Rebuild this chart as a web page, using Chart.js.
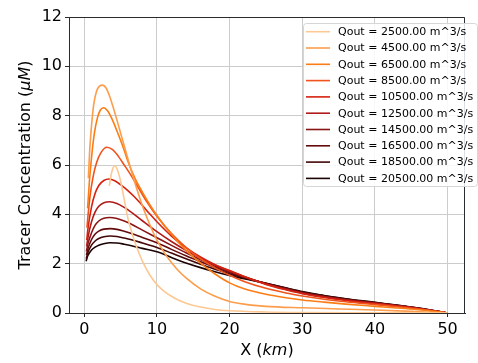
<!DOCTYPE html>
<html>
<head>
<meta charset="utf-8">
<script src="https://cdn.jsdelivr.net/npm/chart.js@4.4.1/dist/chart.umd.min.js"></script>
<style>
  html, body { margin: 0; padding: 0; background: #ffffff; }
  canvas { display: block; }
</style>
</head>
<body>
<canvas id="chart" width="478" height="363"></canvas>
<script>
// Outflow rates (m^3/s) for each tracer profile
const qout = [2500, 4500, 6500, 8500, 10500, 12500, 14500, 16500, 18500, 20500];

// Along-channel distance (km) and tracer concentration (uM) per outflow
const x2500 = [3.44, 3.7, 3.95, 4.2, 4.5, 5.0, 5.5, 6.0, 6.5, 7.0, 7.5, 8.0, 9.0, 10, 11, 12, 13, 14, 16, 18, 20, 25, 30, 40, 50];
const c2500 = [5.15, 5.6, 5.88, 5.97, 5.85, 5.35, 4.6, 3.85, 3.3, 2.85, 2.45, 2.1, 1.55, 1.15, 0.88, 0.68, 0.52, 0.4, 0.24, 0.14, 0.09, 0.04, 0.02, 0.01, 0];

const x4500 = [0.56, 0.75, 1.0, 1.3, 1.7, 2.1, 2.53, 3.0, 3.5, 4.0, 4.5, 5.0, 5.5, 6.0, 7.0, 8.0, 9.0, 10, 11, 12, 13, 14, 16, 18, 20, 22, 25, 30, 35, 40, 45, 50];
const c4500 = [5.46, 6.6, 7.6, 8.45, 9.0, 9.2, 9.24, 9.12, 8.78, 8.32, 7.82, 7.3, 6.78, 6.25, 5.25, 4.35, 3.6, 2.95, 2.45, 2.05, 1.7, 1.42, 0.98, 0.68, 0.47, 0.36, 0.27, 0.21, 0.165, 0.12, 0.065, 0];

const x6500 = [0.46, 0.7, 1.0, 1.4, 1.8, 2.2, 2.67, 3.2, 3.8, 4.5, 5.0, 5.5, 6.0, 7.0, 8.0, 9.0, 10, 11, 12, 13, 14, 16, 18, 20, 22, 25, 28, 30, 33, 36, 40, 43, 46, 50];
const c6500 = [4.24, 5.3, 6.3, 7.3, 7.9, 8.22, 8.32, 8.2, 7.88, 7.38, 7.0, 6.6, 6.15, 5.45, 4.9, 4.4, 3.95, 3.55, 3.2, 2.85, 2.55, 2.02, 1.58, 1.22, 0.98, 0.76, 0.61, 0.53, 0.44, 0.36, 0.27, 0.205, 0.13, 0];

const x8500 = [0.37, 0.5, 0.8, 1.2, 1.7, 2.3, 3.1, 3.9, 4.7, 5.5, 6.5, 7.5, 8.5, 10, 12, 14, 16, 18, 20, 22, 25, 28, 30, 33, 36, 40, 43, 46, 50];
const c8500 = [3.46, 3.9, 4.75, 5.5, 6.1, 6.5, 6.72, 6.62, 6.35, 6.0, 5.55, 5.05, 4.56, 3.92, 3.22, 2.66, 2.2, 1.83, 1.53, 1.28, 1.0, 0.8, 0.69, 0.56, 0.455, 0.34, 0.255, 0.16, 0];

const x10500 = [0.35, 0.5, 1.0, 1.5, 2.0, 2.7, 3.4, 4.2, 5.0, 6.0, 7.0, 8.0, 9.0, 10, 12, 14, 16, 18, 20, 22, 25, 28, 30, 33, 36, 40, 43, 46, 50];
const c10500 = [2.96, 3.4, 4.3, 4.85, 5.17, 5.37, 5.43, 5.36, 5.2, 4.96, 4.68, 4.36, 4.02, 3.7, 3.12, 2.65, 2.27, 1.96, 1.72, 1.48, 1.16, 0.92, 0.78, 0.63, 0.51, 0.38, 0.28, 0.175, 0];

const x12500 = [0.33, 0.5, 1.0, 1.5, 2.0, 2.7, 3.5, 4.5, 5.5, 6.5, 8.0, 10, 12, 14, 16, 18, 20, 22, 25, 28, 30, 33, 36, 40, 43, 46, 50];
const c12500 = [2.7, 3.05, 3.7, 4.1, 4.33, 4.47, 4.51, 4.44, 4.28, 4.08, 3.74, 3.3, 2.9, 2.54, 2.23, 1.95, 1.7, 1.48, 1.18, 0.94, 0.8, 0.65, 0.53, 0.39, 0.29, 0.18, 0];

const x14500 = [0.3, 0.5, 1.0, 1.5, 2.0, 2.7, 3.5, 4.5, 5.5, 6.5, 8.0, 10, 12, 14, 16, 18, 20, 22, 25, 28, 30, 33, 36, 40, 43, 46, 50];
const c14500 = [2.5, 2.8, 3.25, 3.56, 3.73, 3.84, 3.87, 3.83, 3.73, 3.6, 3.36, 3.05, 2.74, 2.44, 2.16, 1.9, 1.67, 1.46, 1.19, 0.96, 0.82, 0.67, 0.54, 0.4, 0.3, 0.185, 0];

const x16500 = [0.3, 0.5, 1.0, 1.5, 2.0, 2.7, 3.6, 4.5, 5.5, 6.5, 8.0, 10, 12, 14, 16, 18, 20, 22, 25, 28, 30, 33, 36, 40, 43, 46, 50];
const c16500 = [2.35, 2.6, 2.98, 3.2, 3.32, 3.4, 3.42, 3.39, 3.31, 3.22, 3.06, 2.85, 2.58, 2.32, 2.08, 1.85, 1.64, 1.45, 1.2, 0.98, 0.84, 0.68, 0.56, 0.41, 0.305, 0.19, 0];

const x18500 = [0.27, 0.5, 1.0, 1.5, 2.0, 2.7, 3.6, 4.5, 5.5, 6.5, 8.0, 10, 12, 14, 16, 18, 20, 22, 25, 28, 30, 33, 36, 40, 43, 46, 50];
const c18500 = [2.2, 2.45, 2.75, 2.92, 3.02, 3.09, 3.12, 3.1, 3.04, 2.97, 2.84, 2.66, 2.43, 2.2, 1.98, 1.77, 1.59, 1.42, 1.2, 0.99, 0.85, 0.7, 0.57, 0.42, 0.31, 0.195, 0];

const x20500 = [0.25, 0.5, 1.0, 1.5, 2.0, 2.7, 3.5, 4.5, 5.5, 6.5, 8.0, 10, 12, 14, 16, 18, 20, 22, 25, 28, 30, 33, 36, 40, 43, 46, 50];
const c20500 = [2.1, 2.33, 2.55, 2.67, 2.75, 2.81, 2.85, 2.84, 2.79, 2.73, 2.62, 2.48, 2.25, 2.03, 1.84, 1.67, 1.52, 1.39, 1.2, 1.0, 0.87, 0.71, 0.58, 0.43, 0.32, 0.2, 0];

// Axis ticks
const xTicks = [0, 10, 20, 30, 40, 50];
const yTicks = [0, 2, 4, 6, 8, 10, 12];

const profiles = [
  [x2500, c2500], [x4500, c4500], [x6500, c6500], [x8500, c8500], [x10500, c10500],
  [x12500, c12500], [x14500, c14500], [x16500, c16500], [x18500, c18500], [x20500, c20500]
];

// Light-to-dark ramp, one shade per outflow
const lineColors = ['#fdc893', '#fd9d4c', '#fb7d15', '#f0531c', '#d5210f', '#b01a19', '#8a1515', '#650b0b', '#440707', '#1c0303'];

const FONT = "'DejaVu Sans', 'Liberation Sans', sans-serif";

const datasets = profiles.map(([xs, cs], i) => ({
  label: 'Qout = ' + qout[i].toFixed(2) + ' m^3/s',
  data: xs.map((x, j) => ({ x: x, y: cs[j] })),
  borderColor: lineColors[i],
  borderWidth: 1.6,
  pointRadius: 0,
  fill: false,
  cubicInterpolationMode: 'monotone'
}));

// Full box frame, axis titles with italic units, and the inset legend
const decorations = {
  id: 'decorations',
  afterDatasetsDraw(chart) {
    const { ctx, chartArea: a } = chart;
    ctx.save();
    ctx.strokeStyle = '#2b2b2b';
    ctx.lineWidth = 1;
    ctx.beginPath();
    ctx.moveTo(a.left + 0.5, a.top + 0.5);
    ctx.lineTo(a.right - 0.5, a.top + 0.5);
    ctx.lineTo(a.right - 0.5, a.bottom);
    ctx.stroke();
    ctx.restore();
  },
  afterDraw(chart) {
    const { ctx, chartArea: a } = chart;
    ctx.save();
    ctx.fillStyle = '#000000';
    ctx.textBaseline = 'alphabetic';

    // X title: X (km)
    const xParts = [['X (', 'normal'], ['km', 'italic'], [')', 'normal']];
    const measure = parts => parts.reduce((w, [t, s]) => {
      ctx.font = s + ' 16px ' + FONT;
      return w + ctx.measureText(t).width;
    }, 0);
    let w = measure(xParts);
    let cx = (a.left + a.right) / 2 - w / 2;
    xParts.forEach(([t, s]) => {
      ctx.font = s + ' 16px ' + FONT;
      ctx.fillText(t, cx, 355);
      cx += ctx.measureText(t).width;
    });

    // Y title: Tracer Concentration (uM)
    const yParts = [['Tracer Concentration (', 'normal'], ['\u03bcM', 'italic'], [')', 'normal']];
    w = measure(yParts);
    ctx.translate(30, (a.top + a.bottom) / 2);
    ctx.rotate(-Math.PI / 2);
    cx = -w / 2;
    yParts.forEach(([t, s]) => {
      ctx.font = s + ' 16px ' + FONT;
      ctx.fillText(t, cx, 0);
      cx += ctx.measureText(t).width;
    });
    ctx.restore();

    // Legend box
    ctx.save();
    const bx = 303, by = 23, bw = 174, bh = 163, r = 3;
    ctx.globalAlpha = 0.85;
    ctx.fillStyle = '#ffffff';
    ctx.beginPath();
    ctx.roundRect(bx + 0.5, by + 0.5, bw, bh, r);
    ctx.fill();
    ctx.globalAlpha = 1;
    ctx.strokeStyle = '#d6d6d6';
    ctx.lineWidth = 1;
    ctx.stroke();
    ctx.font = '11px ' + FONT;
    ctx.textBaseline = 'middle';
    chart.data.datasets.forEach((ds, i) => {
      const ry = 31.7 + i * 16.3;
      ctx.strokeStyle = ds.borderColor;
      ctx.lineWidth = 1.6;
      ctx.beginPath();
      ctx.moveTo(306, ry);
      ctx.lineTo(330, ry);
      ctx.stroke();
      ctx.fillStyle = '#000000';
      ctx.fillText(ds.label, 338, ry + 0.5);
    });
    ctx.restore();
  }
};

new Chart(document.getElementById('chart'), {
  type: 'line',
  data: { datasets: datasets },
  options: {
    responsive: false,
    animation: false,
    devicePixelRatio: 1,
    layout: { padding: { left: 0, top: 17, right: 13, bottom: 0 } },
    plugins: { legend: { display: false }, tooltip: { enabled: false } },
    scales: {
      x: {
        type: 'linear',
        min: -2.1,
        max: 52.4,
        afterBuildTicks: s => { s.ticks = xTicks.map(v => ({ value: v })); },
        afterFit: s => { s.height = 50; },
        ticks: { font: { family: FONT, size: 16 }, color: '#000000', padding: 3, maxRotation: 0 },
        grid: { color: '#cccccc', lineWidth: 1, tickLength: 4, tickColor: '#2b2b2b' },
        border: { color: '#2b2b2b', width: 1 }
      },
      y: {
        type: 'linear',
        min: 0,
        max: 12,
        afterBuildTicks: s => { s.ticks = yTicks.map(v => ({ value: v })); },
        afterFit: s => { s.width = 69; },
        ticks: { font: { family: FONT, size: 16 }, color: '#000000', padding: 3 },
        grid: { color: '#cccccc', lineWidth: 1, tickLength: 4, tickColor: '#2b2b2b' },
        border: { color: '#2b2b2b', width: 1 }
      }
    }
  },
  plugins: [decorations]
});
</script>
</body>
</html>
